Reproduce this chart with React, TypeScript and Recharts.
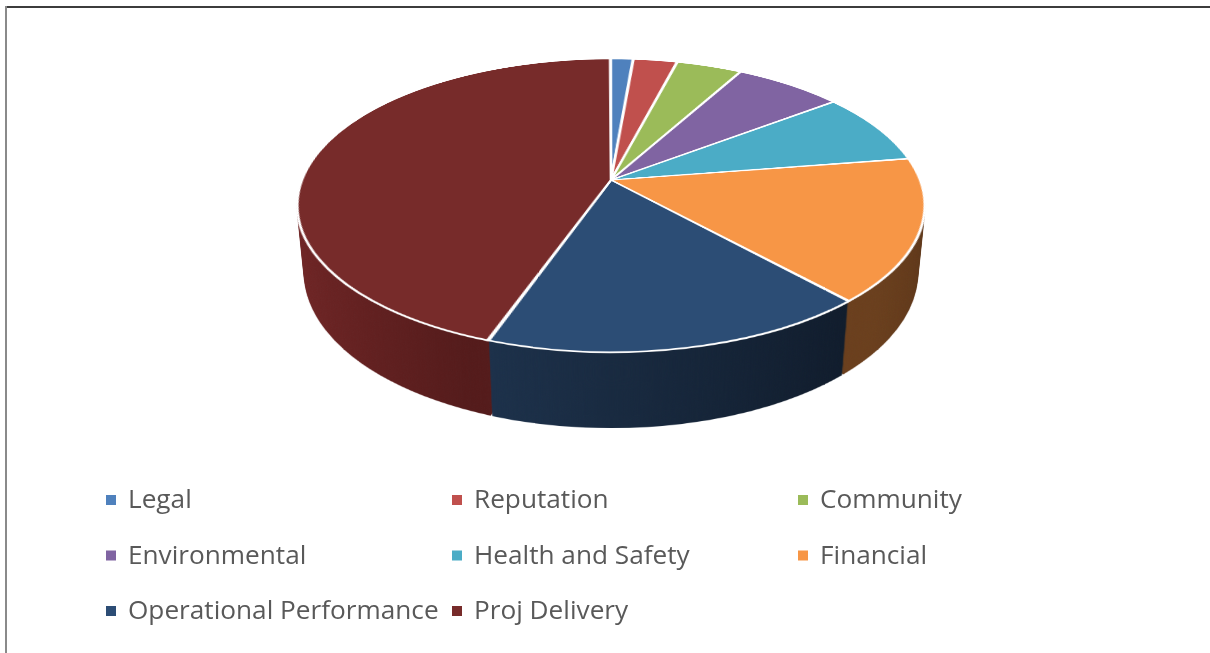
import React from 'react';
import { PieChart, Pie, Cell } from 'recharts';

const categories = [
  'Legal',
  'Reputation',
  'Community',
  'Environmental',
  'Health and Safety',
  'Financial',
  'Operational Performance',
  'Proj Delivery',
];
const values = [1, 2, 3, 5, 6, 12, 13, 34];

const topColors = ['#4f81bd', '#c0504d', '#9bbb59', '#8064a2', '#4bacc6', '#f79646', '#2c4d75', '#772b2a'];
// side gradient stops per slice: [offset, color]
const sideStops: [number, string][][] = [
  [[0, '#2f4d72'], [1, '#2a4567']],
  [[0, '#7a302e'], [1, '#6c2a28']],
  [[0, '#5e7136'], [1, '#52632f']],
  [[0, '#4d3c62'], [1, '#433556']],
  [[0, '#2d6878'], [1, '#275b69']],
  [[0, '#6c401e'], [0.87, '#6a3f1d'], [1, '#5c3518']],
  [[0, '#1e344f'], [0.31, '#1d324c'], [0.87, '#0f1a29'], [1, '#0f1a29']],
  [[0, '#722626'], [0.31, '#541b1b'], [1, '#541b1b']],
];

const data = categories.map((name, i) => ({ name, value: values[i] }));

const SIZE = 640;
const R = 309;
const PERSP = 1578;
const TILT = 62.6;
const DEPTH = 77;
const CX = 611;
const CY = 180;
const PAD = 0.22;

function Layer({ depth, top }: { depth: number; top: boolean }) {
  return (
    <div
      style={{
        position: 'absolute',
        left: CX - SIZE / 2,
        top: CY - SIZE / 2,
        width: SIZE,
        height: SIZE,
        transformOrigin: '50% 50%',
        transform: `perspective(${PERSP}px) rotateX(${TILT}deg) translateZ(${-depth}px)`,
      }}
    >
      <PieChart width={SIZE} height={SIZE} margin={{ top: 0, right: 0, bottom: 0, left: 0 }}>
        <Pie
          data={data}
          dataKey="value"
          nameKey="name"
          cx={SIZE / 2}
          cy={SIZE / 2}
          innerRadius={0}
          outerRadius={R}
          startAngle={90}
          endAngle={-270}
          paddingAngle={PAD}
          isAnimationActive={false}
          stroke={top ? '#ffffff' : 'none'}
          strokeWidth={top ? 2.6 : 0}
        >
          {data.map((d, i) => (
            <Cell key={d.name} fill={top ? topColors[i] : `url(#side${i})`} />
          ))}
        </Pie>
      </PieChart>
    </div>
  );
}

export default function App() {
  const depths: number[] = [];
  for (let d = DEPTH; d >= 1; d -= 1) depths.push(d);
  return (
    <div
      style={{
        position: 'absolute',
        left: 0,
        top: 0,
        width: 1210,
        height: 653,
        overflow: 'hidden',
        background: '#ffffff',
      }}
    >
      <svg width={0} height={0} style={{ position: 'absolute' }}>
        <defs>
          {sideStops.map((stops, i) => (
            <linearGradient key={i} id={`side${i}`} gradientUnits="userSpaceOnUse" x1={0} y1={0} x2={SIZE} y2={0}>
              {stops.map(([o, c], j) => (
                <stop key={j} offset={o} stopColor={c} />
              ))}
            </linearGradient>
          ))}
        </defs>
      </svg>
      {depths.map((d) => (
        <Layer key={d} depth={d} top={false} />
      ))}
      <Layer depth={0} top={true} />
      <svg width={1210} height={653} style={{ position: 'absolute', left: 0, top: 0 }}>
        <rect x={5} y={6} width={1205} height={2} fill="#3c3c3c" />
        <rect x={5} y={6} width={2} height={647} fill="#8a8a8a" />
        {categories.map((c, i) => {
          const col = i % 3;
          const row = Math.floor(i / 3);
          const x = 106 + col * 346;
          const y = 508 + row * 55.5;
          return (
            <g key={c}>
              <rect x={x} y={y - 13} width={10} height={10} fill={topColors[i]} />
              <text x={x + 22} y={y} fontFamily="'Open Sans'" fontSize={26.2} fill="#595959">
                {c}
              </text>
            </g>
          );
        })}
      </svg>
    </div>
  );
}
